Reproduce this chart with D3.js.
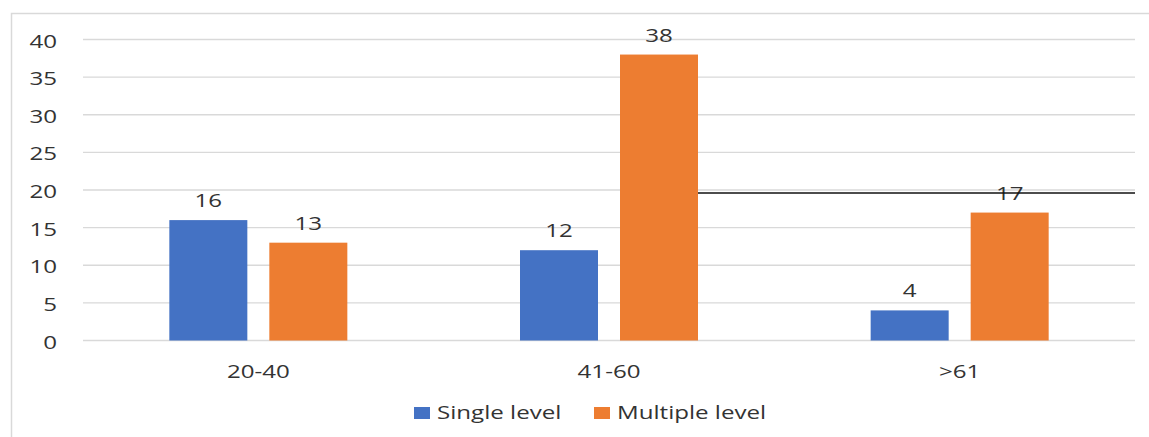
<!DOCTYPE html>
<html>
<head>
<meta charset="utf-8">
<script src="https://cdn.jsdelivr.net/npm/d3@7"></script>
<style>
  html, body { margin: 0; padding: 0; background: #fff; }
  svg { display: block; font-family: "Open Sans", "Noto Sans", sans-serif; }
</style>
</head>
<body>
<svg id="chart" width="1149" height="437"></svg>
<script>
// Age groups and counts per series
const categories = ["20-40", "41-60", ">61"];
const seriesNames = ["Single level", "Multiple level"];
const singleLevel = [16, 12, 4];
const multipleLevel = [13, 38, 17];
const yTicks = [0, 5, 10, 15, 20, 25, 30, 35, 40];
// Horizontal marker line level
const markerValue = [19.6];

const colors = ["#4472C4", "#ED7D31"];
const textColor = "#333";
const fontSize = 18;
const stretch = "scale(1.34,1)";   // wide lettering

const svg = d3.select("#chart");
const W = 1149, H = 437;
const plot = { left: 83, right: 1135, top: 39.5, bottom: 340.5 };

// Outer frame
svg.append("rect")
  .attr("x", 11.5).attr("y", 13.5)
  .attr("width", W + 10).attr("height", H + 10)
  .attr("fill", "none").attr("stroke", "#d9d9d9").attr("stroke-width", 1.5);

const x0 = d3.scaleBand().domain(categories).range([plot.left, plot.right]).paddingInner(0).paddingOuter(0);
const y = d3.scaleLinear().domain([0, 40]).range([plot.bottom, plot.top]);

const barW = 78, gap = 22;
const offsets = [-(gap / 2 + barW), gap / 2];

// Gridlines
svg.append("g").selectAll("line").data(yTicks).join("line")
  .attr("x1", plot.left).attr("x2", plot.right)
  .attr("y1", d => y(d)).attr("y2", d => y(d))
  .attr("stroke", "#d9d9d9").attr("stroke-width", 1.3);

// Y axis labels
const yAxis = d3.axisLeft(y).tickValues(yTicks).tickSize(0).tickPadding(0);
const gy = svg.append("g").attr("transform", "translate(57,0)").call(yAxis);
gy.select(".domain").remove();
gy.selectAll("text").attr("font-size", fontSize).attr("fill", textColor)
  .attr("font-family", "'Open Sans', sans-serif").attr("dy", "0.42em")
  .attr("transform", stretch);

// X axis labels
const xAxis = d3.axisBottom(x0).tickSize(0).tickPadding(0);
const gx = svg.append("g").attr("transform", `translate(0,${plot.bottom + 37})`).call(xAxis);
gx.select(".domain").remove();
gx.selectAll("text").attr("font-size", fontSize).attr("fill", textColor)
  .attr("font-family", "'Open Sans', sans-serif").attr("dy", 0).attr("y", 0)
  .attr("transform", stretch);

const series = [singleLevel, multipleLevel];
series.forEach((vals, si) => {
  const g = svg.append("g");
  g.selectAll("rect").data(categories).join("rect")
    .attr("x", (c) => x0(c) + x0.bandwidth() / 2 + offsets[si])
    .attr("y", (c, i) => y(vals[i]))
    .attr("width", barW)
    .attr("height", (c, i) => y(0) - y(vals[i]))
    .attr("fill", colors[si]);
  g.selectAll("g.label").data(categories).join("g").attr("class", "label")
    .attr("transform", (c, i) =>
      `translate(${x0(c) + x0.bandwidth() / 2 + offsets[si] + barW / 2},${y(vals[i]) - 13})`)
    .append("text")
    .attr("text-anchor", "middle")
    .attr("transform", stretch)
    .attr("font-size", fontSize).attr("fill", textColor)
    .text((c, i) => vals[i]);
});

// Marker line from the right edge of the 41-60 multiple-level bar to the plot edge
svg.append("line")
  .attr("x1", x0("41-60") + x0.bandwidth() / 2 + offsets[1] + barW)
  .attr("x2", plot.right)
  .attr("y1", y(markerValue[0])).attr("y2", y(markerValue[0]))
  .attr("stroke", "#111").attr("stroke-width", 1.6);

// Legend
const legend = svg.append("g").attr("transform", "translate(0,413)");
const legendX = [414, 594];
seriesNames.forEach((name, i) => {
  legend.append("rect").attr("x", legendX[i]).attr("y", -6).attr("width", 16).attr("height", 12).attr("fill", colors[i]);
  legend.append("g").attr("transform", `translate(${legendX[i] + 23},0)`)
    .append("text").attr("dy", "0.36em").attr("transform", stretch)
    .attr("font-size", fontSize).attr("fill", textColor).text(name);
});
</script>
</body>
</html>
